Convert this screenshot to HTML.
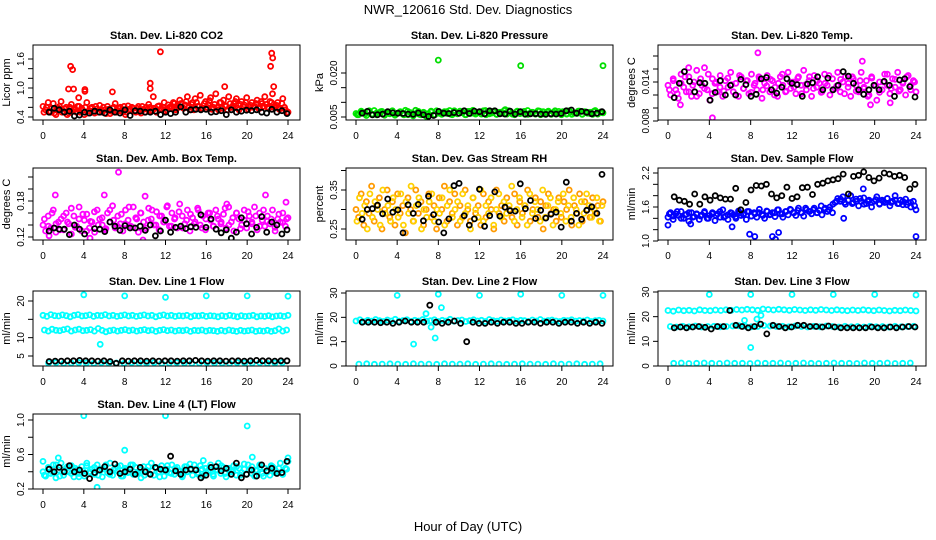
<!DOCTYPE html>
<html><head><meta charset="utf-8"><style>
body{margin:0;background:#fff;}
svg{display:block;font-family:"Liberation Sans",sans-serif;}
</style></head><body>
<svg id="chart" width="936" height="540" viewBox="0 0 936 540" xmlns="http://www.w3.org/2000/svg">
<rect width="936" height="540" fill="#fff"/>
<text x="468" y="14" text-anchor="middle" font-size="13">NWR_120616  Std. Dev. Diagnostics</text>
<text x="468" y="531" text-anchor="middle" font-size="13">Hour of Day (UTC)</text>
</svg>
<script>
// ---------- data ----------
const xTicks=[0,4,8,12,16,20,24];
const co2Red=[0.62,0.55,0.7,0.5,0.68,0.45,0.58,0.72,0.52,0.6,0.48,0.66,0.55,0.5,0.62,0.58,0.45,0.7,0.53,0.6,0.48,0.57,0.64,0.5,0.55,0.62,0.47,0.58,0.68,0.52,0.6,0.5,0.45,0.63,0.55,0.58,0.5,0.62,0.48,0.56,0.6,0.66,0.52,0.58,0.5,0.63,0.57,0.7,0.55,0.6,0.62,0.68,0.58,0.75,0.6,0.65,0.82,0.55,0.7,0.78,0.62,0.85,0.58,0.72,0.66,0.8,0.6,0.88,0.55,0.7,0.75,0.62,0.82,0.6,0.68,0.78,0.55,0.72,0.65,0.8,0.6,0.7,0.62,0.75,0.58,0.68,0.82,0.6,0.72,0.88,0.62,0.7,0.58,0.78,0.55,0.5];
const co2RedB=[0.5,0.6,0.52,0.58,0.48,0.55,0.62,0.5,0.57,0.45,0.6,0.52,0.56,0.62,0.5,0.54,0.6,0.48,0.58,0.52,0.62,0.5,0.55,0.6,0.47,0.56,0.52,0.6,0.5,0.58,0.54,0.62,0.5,0.56,0.6,0.52,0.58,0.55,0.62,0.5,0.56,0.6,0.54,0.58,0.62,0.56,0.6,0.52,0.65,0.58,0.7,0.55,0.62,0.68,0.58,0.72,0.6,0.66,0.55,0.7,0.62,0.58,0.68,0.6,0.74,0.56,0.66,0.6,0.7,0.58,0.64,0.55,0.68,0.6,0.72,0.58,0.66,0.62,0.7,0.56,0.64,0.6,0.68,0.58,0.72,0.62,0.66,0.58,0.7,0.6,0.64,0.56,0.68,0.6,0.5];
const co2OutX=[2.7,2.9,2.5,3.0,4.1,4.1,6.8,10.5,10.5,11.5,17.8,22.4,22.5,22.3,22.6,3.5,10.8];
const co2OutY=[1.45,1.38,0.98,0.98,0.97,0.93,0.92,1.1,0.99,1.75,1.03,1.72,1.62,1.45,1.03,0.8,0.82];
const co2Blk=[0.5,0.58,0.55,0.5,0.52,0.42,0.44,0.5,0.48,0.52,0.5,0.48,0.55,0.5,0.48,0.55,0.43,0.53,0.52,0.5,0.5,0.52,0.45,0.5,0.47,0.5,0.61,0.5,0.55,0.56,0.55,0.56,0.5,0.51,0.53,0.45,0.55,0.5,0.52,0.54,0.53,0.55,0.5,0.48,0.56,0.5,0.53,0.47];
const presGrn=[0.0062,0.0058,0.007,0.0065,0.0055,0.0068,0.006,0.0072,0.0057,0.0064,0.0069,0.0059,0.0066,0.0061,0.0071,0.0056,0.0063,0.0068,0.006,0.0073,0.0058,0.0065,0.0054,0.0062,0.0069,0.0057,0.0066,0.0052,0.006,0.0067,0.0058,0.0071,0.0063,0.0059,0.0068,0.0062,0.0072,0.0058,0.0066,0.0061,0.007,0.0064,0.0058,0.0069,0.0062,0.0073,0.006,0.0066,0.0062,0.0071,0.0058,0.0067,0.0063,0.007,0.0059,0.0066,0.0062,0.0072,0.006,0.0068,0.0064,0.0058,0.007,0.0062,0.0067,0.0059,0.0072,0.0063,0.0066,0.006,0.0071,0.0058,0.0068,0.0062,0.007,0.006,0.0066,0.0063,0.0069,0.0058,0.0067,0.0061,0.0071,0.0059,0.0065,0.0062,0.007,0.006,0.0068,0.0063,0.0066,0.0059,0.0072,0.0062,0.0067,0.0064];
const presGrnB=[0.0058,0.0066,0.0061,0.0071,0.0059,0.0064,0.0068,0.0056,0.0063,0.007,0.006,0.0066,0.0057,0.0069,0.0062,0.0073,0.0059,0.0065,0.0061,0.007,0.0058,0.0066,0.0063,0.0068,0.006,0.0071,0.0062,0.0067,0.0058,0.0069,0.0063,0.0066,0.006,0.0072,0.0061,0.0068,0.0059,0.0066,0.0063,0.0071,0.006,0.0067,0.0062,0.0069,0.0059,0.0066,0.0063,0.007,0.0061,0.0067,0.0059,0.0071,0.0062,0.0068,0.006,0.0066,0.0063,0.007,0.0059,0.0067,0.0062,0.0069,0.006,0.0066];
const presOutX=[8,16,24,14.5];
const presOutY=[0.0244,0.0225,0.0225,0.0075];
const presBlk=[0.0063,0.0069,0.0057,0.0058,0.006,0.0068,0.0064,0.0063,0.0062,0.006,0.0059,0.0064,0.0058,0.0052,0.0055,0.0069,0.0063,0.0062,0.0065,0.0063,0.0071,0.0062,0.007,0.0068,0.0061,0.0071,0.0071,0.0061,0.006,0.007,0.006,0.0068,0.006,0.0061,0.0061,0.006,0.0059,0.0061,0.006,0.0062,0.0071,0.0074,0.0063,0.0069,0.0066,0.0061,0.0063,0.0068];
const tempMag=[0.0135,0.012,0.0145,0.0128,0.0115,0.0152,0.0132,0.0125,0.0148,0.0118,0.014,0.0158,0.0122,0.0135,0.0162,0.0128,0.0112,0.0145,0.0138,0.0125,0.015,0.0118,0.0142,0.0132,0.0155,0.0125,0.0138,0.0118,0.0148,0.013,0.0142,0.0122,0.0152,0.0135,0.0128,0.0145,0.0115,0.0138,0.015,0.0125,0.0142,0.0132,0.0118,0.0148,0.0135,0.0125,0.0155,0.013,0.014,0.0122,0.0148,0.0135,0.0158,0.0128,0.0142,0.0118,0.015,0.0132,0.0138,0.0125,0.0152,0.0135,0.012,0.0145,0.013,0.0155,0.0125,0.014,0.0148,0.0132,0.0118,0.0145,0.0135,0.0125,0.0155,0.013,0.0142,0.012,0.0148,0.0135,0.0112,0.014,0.0128,0.0152,0.0135,0.0122,0.0145,0.0132,0.0155,0.0128,0.014,0.012,0.015,0.0135,0.0142,0.0125];
const tempMagB=[0.0128,0.0142,0.0122,0.0138,0.0148,0.0125,0.0135,0.0118,0.0145,0.013,0.0152,0.0122,0.014,0.0132,0.0126,0.0146,0.0136,0.012,0.015,0.013,0.0142,0.0124,0.0138,0.0148,0.0128,0.0134,0.0144,0.012,0.0138,0.0152,0.0126,0.014,0.0132,0.0146,0.0122,0.0136,0.0148,0.013,0.0142,0.0124,0.0138,0.015,0.0128,0.0134,0.0144,0.0122,0.0138,0.0148,0.0126,0.0142,0.0132,0.0118,0.0146,0.0134,0.0124,0.014,0.0152,0.013,0.0144,0.0126,0.0138,0.0148,0.0128,0.014];
const tempOutX=[4.3,8.7,18.8,1.2,19.6,21.5,2.0];
const tempOutY=[0.0085,0.0185,0.0172,0.0105,0.0105,0.0108,0.0162];
const tempBlk=[0.0116,0.0138,0.0156,0.0141,0.0125,0.0139,0.0138,0.0112,0.0124,0.0142,0.012,0.0135,0.012,0.0144,0.0136,0.0118,0.0121,0.0145,0.0147,0.0128,0.0123,0.0132,0.0145,0.0138,0.0136,0.0118,0.0137,0.0139,0.0148,0.0128,0.0146,0.0128,0.0135,0.0156,0.0149,0.0138,0.0128,0.0121,0.0128,0.0135,0.0128,0.0141,0.0135,0.0118,0.0143,0.0145,0.0133,0.0117];
const ambMag=[0.14,0.13,0.155,0.135,0.165,0.128,0.145,0.15,0.132,0.16,0.142,0.125,0.155,0.138,0.17,0.13,0.148,0.158,0.135,0.145,0.128,0.165,0.15,0.14,0.132,0.16,0.145,0.172,0.135,0.155,0.142,0.13,0.165,0.148,0.138,0.17,0.152,0.128,0.16,0.145,0.135,0.168,0.15,0.14,0.162,0.132,0.155,0.145,0.17,0.138,0.16,0.15,0.135,0.175,0.155,0.142,0.165,0.13,0.152,0.145,0.168,0.14,0.155,0.132,0.16,0.148,0.138,0.165,0.15,0.142,0.158,0.135,0.17,0.145,0.13,0.16,0.15,0.14,0.165,0.135,0.155,0.145,0.17,0.132,0.16,0.148,0.138,0.155,0.142,0.165,0.13,0.15,0.145,0.16,0.138,0.152];
const ambMagB=[0.15,0.138,0.16,0.142,0.132,0.155,0.145,0.168,0.136,0.15,0.158,0.13,0.146,0.162,0.14,0.152,0.134,0.165,0.148,0.138,0.158,0.142,0.17,0.136,0.15,0.16,0.132,0.148,0.165,0.14,0.155,0.145,0.172,0.138,0.152,0.162,0.135,0.148,0.158,0.142,0.165,0.135,0.15,0.16,0.138,0.155,0.145,0.168,0.14,0.152,0.16,0.134,0.148,0.162,0.142,0.155,0.138,0.165,0.146,0.15,0.136,0.158,0.144,0.15];
const ambOutX=[7.4,1.2,6.0,10.0,18.0,21.8,23.8,0.6,4.6,9.8,23.4];
const ambOutY=[0.228,0.19,0.19,0.188,0.175,0.19,0.178,0.122,0.118,0.115,0.108];
const ambBlk=[0.13,0.135,0.133,0.133,0.124,0.14,0.133,0.125,0.108,0.134,0.133,0.129,0.145,0.138,0.131,0.139,0.135,0.135,0.138,0.131,0.14,0.122,0.13,0.148,0.128,0.136,0.138,0.134,0.137,0.136,0.157,0.136,0.15,0.133,0.127,0.132,0.118,0.128,0.152,0.142,0.125,0.136,0.154,0.128,0.145,0.14,0.125,0.132];
const rhOrg=[0.3,0.28,0.34,0.26,0.32,0.29,0.36,0.27,0.31,0.33,0.25,0.3,0.35,0.28,0.32,0.26,0.34,0.29,0.31,0.24,0.33,0.3,0.27,0.35,0.29,0.32,0.26,0.3,0.34,0.28,0.31,0.25,0.33,0.3,0.36,0.27,0.32,0.29,0.34,0.26,0.31,0.28,0.35,0.3,0.27,0.33,0.29,0.31,0.26,0.34,0.28,0.32,0.3,0.25,0.35,0.29,0.31,0.27,0.33,0.3,0.28,0.34,0.26,0.32,0.29,0.31,0.35,0.27,0.3,0.33,0.28,0.32,0.25,0.31,0.34,0.29,0.3,0.27,0.33,0.28,0.32,0.3,0.35,0.26,0.31,0.29,0.34,0.27,0.32,0.3,0.28,0.33,0.29,0.31,0.27,0.32];
const rhOrgB=[0.27,0.33,0.29,0.31,0.25,0.34,0.28,0.32,0.3,0.26,0.35,0.29,0.31,0.27,0.33,0.3,0.28,0.34,0.26,0.32,0.29,0.36,0.27,0.31,0.33,0.25,0.3,0.28,0.32,0.34,0.27,0.3,0.29,0.33,0.26,0.31,0.35,0.28,0.3,0.32,0.27,0.34,0.29,0.31,0.25,0.33,0.3,0.28,0.35,0.27,0.31,0.29,0.33,0.26,0.3,0.34,0.28,0.32,0.29,0.31,0.36,0.27,0.3,0.33,0.28,0.31,0.26,0.34,0.29,0.32,0.3,0.27,0.35,0.28,0.31,0.33,0.26,0.3,0.32,0.29,0.34,0.27,0.31,0.28,0.33,0.3,0.26,0.32,0.29,0.34,0.31,0.28,0.3,0.33,0.27,0.31];
const rhBlk=[0.275,0.3,0.302,0.311,0.289,0.327,0.293,0.299,0.24,0.312,0.29,0.313,0.271,0.334,0.287,0.268,0.24,0.276,0.361,0.367,0.284,0.26,0.276,0.352,0.257,0.284,0.345,0.283,0.306,0.297,0.296,0.366,0.302,0.323,0.277,0.298,0.278,0.288,0.293,0.255,0.37,0.27,0.29,0.275,0.298,0.307,0.29,0.39];
const flowBlu=[1.42,1.5,1.38,1.48,1.45,1.52,1.4,1.47,1.35,1.5,1.43,1.48,1.38,1.46,1.52,1.4,1.45,1.5,1.36,1.48,1.42,1.55,1.44,1.38,1.5,1.46,1.4,1.53,1.45,1.48,1.38,1.52,1.44,1.5,1.42,1.56,1.47,1.4,1.52,1.46,1.5,1.43,1.55,1.48,1.42,1.52,1.46,1.55,1.5,1.45,1.58,1.5,1.44,1.55,1.52,1.48,1.58,1.5,1.54,1.46,1.56,1.52,1.6,1.5,1.68,1.75,1.7,1.78,1.65,1.72,1.8,1.68,1.74,1.62,1.7,1.76,1.66,1.72,1.6,1.7,1.78,1.65,1.72,1.68,1.75,1.62,1.7,1.8,1.66,1.72,1.64,1.74,1.68,1.6,1.7,1.55];
const flowBluB=[1.48,1.44,1.52,1.4,1.46,1.5,1.42,1.47,1.44,1.5,1.4,1.48,1.45,1.52,1.42,1.46,1.49,1.43,1.5,1.46,1.52,1.44,1.48,1.5,1.45,1.53,1.47,1.5,1.55,1.48,1.52,1.56,1.5,1.54,1.5,1.58,1.52,1.55,1.5,1.62,1.58,1.55,1.65,1.7,1.74,1.68,1.72,1.66,1.7,1.75,1.65,1.7,1.68,1.73,1.66,1.7,1.75,1.68,1.72,1.66,1.7,1.64,1.68,1.62];
const flowOutX=[0.0,7.9,8.4,10.1,10.4,10.7,24.0,2.2,6.2,17.0,18.9];
const flowOutY=[1.28,1.12,1.08,1.08,1.03,1.15,1.08,1.3,1.25,1.4,1.92];
const flowBlk=[1.78,1.72,1.7,1.65,1.83,1.65,1.78,1.72,1.8,1.76,1.74,1.74,1.93,1.55,1.68,1.9,1.98,1.97,2.0,1.83,1.76,1.8,1.95,1.75,1.78,1.94,1.95,1.82,2.0,2.02,2.06,2.08,2.1,2.18,1.83,2.14,2.16,2.22,2.12,2.06,2.11,2.2,2.18,2.14,2.16,2.12,1.92,2.0];
const l1A=[16.1,15.8,16.3,16.0,15.9,16.2,16.0,15.7,16.1,16.3,15.9,16.0,16.2,15.8,16.1,16.0,16.3,15.9,16.1,15.8,16.0,16.2,15.9,16.1,15.8,16.0,16.2,15.9,16.1,15.7,16.0,16.2,15.9,16.1,15.8,16.0,15.9,16.1,15.7,16.0,15.9,16.1,15.8,16.0,15.9,15.7,16.0,15.8,16.1,15.9,15.7,16.0,15.8,15.9,16.1,15.7,15.9,15.8,16.0,15.7,15.9,16.0,15.8,16.1];
const l1B=[12.1,11.8,12.3,12.0,11.9,12.2,12.4,11.8,12.1,12.3,11.9,12.0,12.2,11.8,12.5,12.0,11.6,11.9,12.1,11.8,12.0,12.2,11.9,12.1,11.8,12.0,12.2,11.9,12.1,11.7,12.0,12.2,11.9,12.1,11.8,12.0,11.9,12.1,11.7,12.0,11.9,12.1,11.8,12.0,11.9,11.7,12.0,11.8,12.1,11.9,11.7,12.0,11.8,11.9,12.1,11.7,11.9,11.8,12.0,11.7,11.9,12.4,11.8,12.1];
const l1C=[3.1,3.2,3.0,3.1,3.2,3.1,3.0,3.2,3.1,3.1,3.0,3.2,3.1,3.1,3.2,3.0,3.1,3.2,3.1,3.0,3.1,3.2,3.1,3.1,3.0,3.2,3.1,3.1,3.2,3.0,3.1,3.2];
const l1OutX=[4,8,12,16,20,24,5.6];
const l1OutY=[21.7,21.4,21,21.4,21.4,21.3,8.2];
const l1Blk=[3.5,3.6,3.6,3.7,3.7,3.8,3.7,3.7,3.6,3.7,3.5,3.0,3.7,3.6,3.7,3.7,3.6,3.7,3.6,3.7,3.7,3.6,3.7,3.7,3.8,3.7,3.6,3.7,3.7,3.6,3.7,3.7,3.6,3.7,3.8,3.7,3.7,3.6,3.7,3.7];
const l2A=[18.5,19.0,18.2,18.8,18.4,19.1,18.6,18.3,18.9,18.5,19.2,18.4,18.7,19.0,18.3,18.8,18.5,19.1,18.4,18.6,19.0,18.3,18.8,18.5,19.2,18.4,18.7,18.9,18.3,18.6,19.0,18.5,18.8,18.3,19.1,18.6,18.4,18.9,18.5,18.7,19.0,18.4,18.8,18.6,18.3,18.9,18.5,19.1,18.4,18.7,18.9,18.5,18.3,18.8,18.6,19.0,18.4,18.7,18.5,18.9,18.3,18.6,18.8,18.5];
const l2Low=[0.8,0.9,0.7,0.8,0.9,0.8,0.7,0.9,0.8,0.8,0.7,0.9,0.8,0.8,0.9,0.7,0.8,0.9,0.8,0.7,0.8,0.9,0.8,0.8,0.7,0.9,0.8,0.8,0.9,0.7,0.8,0.9];
const l2OutX=[4,8,12,16,20,24,5.6,6.8,7.7,8.3,7.3];
const l2OutY=[29,29.5,29,29.5,29,29,9,21.5,11.5,24,16];
const l2Blk=[18,18,18,17.8,18,17.5,18,18.5,18,18,18,25,18,17.5,18,18.5,17.5,10,18,17.5,17.5,18,17.5,18,18,17.5,17.5,18,18,17.5,18,18,17.5,18,18,17.5,18,17.5,18,17.5];
const l3A=[22.5,22.2,22.7,22.4,22.6,22.3,22.8,22.5,22.4,22.7,22.5,22.8,22.6,22.9,22.7,23.0,22.8,22.6,23.1,22.9,22.7,23.0,22.8,22.6,22.9,22.7,22.5,22.8,22.6,22.9,22.7,22.5,22.8,22.6,22.4,22.7,22.5,22.8,22.6,22.4,22.7,22.5,22.3,22.6,22.4,22.7,22.5,22.3];
const l3B=[16,15.8,16.1,15.9,16.2,15.8,16,16.1,15.9,16,16.2,16.3,16.1,15.9,16,16.4,16.2,16,16.1,15.9,16.2,16,15.8,16.1,15.9,16.2,16,15.8,16.1,15.9,16,15.8,16.1,15.9,16,15.8,16.1,15.9,16,16.1];
const l3Low=[1.1,1.2,1.0,1.1,1.2,1.1,1.0,1.2,1.1,1.1,1.0,1.2,1.1,1.1,1.2,1.0,1.1,1.2,1.1,1.0,1.1,1.2,1.1,1.1,1.0,1.2,1.1,1.1,1.2,1.0,1.1,1.2];
const l3OutX=[4,8,12,16,20,24,8.0,7.4,9.0,8.6];
const l3OutY=[29,29,29,29,29,28.8,7.5,18.5,20.5,19];
const l3Blk=[15.5,15.8,15.5,15.8,16,15.7,15,16,16,22.5,16.5,16,15.5,16,17,13,16.5,16,15.5,15.8,16.5,16.5,16,16,15.8,16.2,15.8,15.5,15.5,15.5,15.5,15.5,15.8,15.5,15.5,15.8,15.5,15.8,16,15.8];
const l4Cyn=[0.4,0.35,0.45,0.38,0.48,0.33,0.42,0.5,0.36,0.44,0.4,0.47,0.34,0.42,0.38,0.46,0.35,0.5,0.4,0.43,0.37,0.48,0.41,0.34,0.45,0.39,0.5,0.36,0.44,0.41,0.47,0.35,0.42,0.39,0.48,0.37,0.45,0.4,0.33,0.46,0.42,0.38,0.5,0.36,0.44,0.4,0.47,0.35,0.43,0.39,0.48,0.37,0.45,0.41,0.34,0.46,0.4,0.49,0.36,0.43,0.39,0.47,0.35,0.44,0.41,0.48,0.37,0.42,0.5,0.38,0.45,0.34,0.43,0.4,0.47,0.36,0.44,0.39,0.49,0.37,0.42,0.46,0.35,0.41,0.48,0.38,0.44,0.4,0.36,0.46,0.42,0.39,0.5,0.37,0.44,0.52];
const l4CynB=[0.36,0.44,0.4,0.48,0.35,0.42,0.46,0.38,0.44,0.34,0.41,0.47,0.39,0.45,0.36,0.43,0.48,0.37,0.42,0.46,0.35,0.44,0.4,0.48,0.38,0.43,0.36,0.46,0.41,0.45,0.34,0.42,0.47,0.38,0.44,0.4,0.36,0.46,0.42,0.48,0.37,0.43,0.39,0.45,0.35,0.42,0.47,0.38,0.44,0.4,0.46,0.36,0.43,0.48,0.38,0.42,0.45,0.35,0.41,0.47,0.39,0.44,0.37,0.43];
const l4OutX=[4,12,20,8,5.3,0,1.5,15.7,20.5,24];
const l4OutY=[1.05,1.05,0.93,0.65,0.22,0.52,0.56,0.53,0.57,0.56];
const l4Blk=[0.43,0.4,0.45,0.4,0.47,0.4,0.42,0.38,0.32,0.39,0.42,0.46,0.4,0.49,0.38,0.4,0.43,0.37,0.45,0.4,0.37,0.45,0.43,0.42,0.58,0.41,0.37,0.42,0.43,0.42,0.33,0.36,0.45,0.46,0.41,0.44,0.37,0.5,0.33,0.37,0.42,0.35,0.48,0.41,0.44,0.38,0.39,0.52];

// ---------- layout ----------
const COLS=[{b0:33,b1:300,x0:43,x1:288},{b0:346,b1:613,x0:356,x1:603},{b0:658,b1:926,x0:668,x1:916}];
const ROWS=[{t:45,b:120},{t:168,b:240},{t:291,b:366},{t:414,b:489}];
const panels=[
 {name:'co2',title:'Stan. Dev. Li-820 CO2',ylab:'Licor ppm',c:0,r:0,ya:[0.4,117],yb:[1.6,59],ticks:[0.4,0.6,0.8,1.0,1.2,1.4,1.6],labels:['0.4','1.0','1.6'],lv:[0.4,1.0,1.6],
  series:[[co2Red,'#ff0000'],[co2RedB,'#ff0000']],out:[co2OutX,co2OutY,'#ff0000'],blk:co2Blk},
 {name:'pressure',title:'Stan. Dev. Li-820 Pressure',ylab:'kPa',c:1,r:0,ya:[0.005,117],yb:[0.020,73],ticks:[0.005,0.010,0.015,0.020],labels:['0.005','0.020'],lv:[0.005,0.020],
  series:[[presGrn,'#00ee00'],[presGrnB,'#00dd00']],out:[presOutX,presOutY,'#00dd00'],blk:presBlk},
 {name:'li820-temp',title:'Stan. Dev. Li-820 Temp.',ylab:'degrees C',c:2,r:0,ya:[0.008,121],yb:[0.014,82],ticks:[0.008,0.010,0.012,0.014,0.016,0.018],labels:['0.008','0.014'],lv:[0.008,0.014],
  series:[[tempMag,'#ff00ff'],[tempMagB,'#ff00ff']],out:[tempOutX,tempOutY,'#ff00ff'],blk:tempBlk},
 {name:'amb-box-temp',title:'Stan. Dev. Amb. Box Temp.',ylab:'degrees C',c:0,r:1,ya:[0.12,237],yb:[0.18,201],ticks:[0.12,0.14,0.16,0.18,0.20,0.22],labels:['0.12','0.18'],lv:[0.12,0.18],
  series:[[ambMag,'#ff00ff'],[ambMagB,'#ff00ff']],out:[ambOutX,ambOutY,'#ff00ff'],blk:ambBlk},
 {name:'gas-stream-rh',title:'Stan. Dev. Gas Stream RH',ylab:'percent',c:1,r:1,ya:[0.25,229],yb:[0.35,190],ticks:[0.25,0.30,0.35,0.40],labels:['0.25','0.35'],lv:[0.25,0.35],
  series:[[rhOrg,'#ff9a00'],[rhOrgB,'#ffd000']],out:null,blk:rhBlk},
 {name:'sample-flow',title:'Stan. Dev. Sample Flow',ylab:'ml/min',c:2,r:1,ya:[1.0,241],yb:[2.2,173],ticks:[1.0,1.2,1.4,1.6,1.8,2.0,2.2],labels:['1.0','1.6','2.2'],lv:[1.0,1.6,2.2],
  series:[[flowBlu,'#0000ff'],[flowBluB,'#0000ff']],out:[flowOutX,flowOutY,'#0000ff'],blk:flowBlk},
 {name:'line1-flow',title:'Stan. Dev. Line 1 Flow',ylab:'ml/min',c:0,r:2,ya:[5,356],yb:[20,301],ticks:[5,10,15,20],labels:['5','10','20'],lv:[5,10,20],
  series:[[l1A,'#00ffff'],[l1B,'#00ffff'],[l1C,'#00ffff']],out:[l1OutX,l1OutY,'#00ffff'],blk:l1Blk},
 {name:'line2-flow',title:'Stan. Dev. Line 2 Flow',ylab:'ml/min',c:1,r:2,ya:[0,366],yb:[30,293],ticks:[0,10,20,30],labels:['0','10','20','30'],lv:[0,10,20,30],
  series:[[l2A,'#00ffff'],[l2Low,'#00ffff']],out:[l2OutX,l2OutY,'#00ffff'],blk:l2Blk},
 {name:'line3-flow',title:'Stan. Dev. Line 3 Flow',ylab:'ml/min',c:2,r:2,ya:[0,366],yb:[30,292],ticks:[0,10,20,30],labels:['0','10','20','30'],lv:[0,10,20,30],
  series:[[l3A,'#00ffff'],[l3B,'#00ffff'],[l3Low,'#00ffff']],out:[l3OutX,l3OutY,'#00ffff'],blk:l3Blk},
 {name:'line4-flow',title:'Stan. Dev. Line 4 (LT) Flow',ylab:'ml/min',c:0,r:3,ya:[0.2,489],yb:[1.0,420],ticks:[0.2,0.4,0.6,0.8,1.0],labels:['0.2','0.6','1.0'],lv:[0.2,0.6,1.0],
  series:[[l4Cyn,'#00ffff'],[l4CynB,'#00ffff']],out:[l4OutX,l4OutY,'#00ffff'],blk:l4Blk}
];

const NS='http://www.w3.org/2000/svg';
const svg=document.getElementById('chart');
function mk(tag,attrs,parent){const e=document.createElementNS(NS,tag);for(const k in attrs)e.setAttribute(k,attrs[k]);parent.appendChild(e);return e;}

panels.forEach(p=>{
  const C=COLS[p.c],R=ROWS[p.r];
  const g=mk('g',{},svg);
  
  
  const xs=h=>C.x0+(C.x1-C.x0)*h/24;
  const ys=v=>p.ya[1]+(v-p.ya[0])*(p.yb[1]-p.ya[1])/(p.yb[0]-p.ya[0]);
  const cl=mk('clipPath',{id:'cp'+p.name},g);
  mk('rect',{x:C.b0,y:R.t,width:C.b1-C.b0,height:R.b-R.t},cl);
  const pts=mk('g',{'clip-path':'url(#cp'+p.name+')',fill:'none','stroke-width':'1.8'},g);
  
  
  function dot(h,v,col,nm){
    const c=mk('circle',{cx:xs(h).toFixed(1),cy:ys(v).toFixed(1),r:2.5,stroke:col},pts);
    
    
  }
  p.series.forEach((s,si)=>{
    const arr=s[0],n=arr.length;
    arr.forEach((v,i)=>dot((i+si*0.37)*24/(n-1+si*0.37*2),v,s[1],p.name+'-point'));
  });
  if(p.out){p.out[0].forEach((h,i)=>dot(h,p.out[1][i],p.out[2],p.name+'-outlier'));}
  const nb=p.blk.length;
  p.blk.forEach((v,i)=>dot(0.6+i*23.3/(nb-1),v,'#000',p.name+'-ref-point'));
  const bx=mk('rect',{x:C.b0,y:R.t,width:C.b1-C.b0,height:R.b-R.t,fill:'none',stroke:'#000','stroke-width':1},g);
  
  
  const t=mk('text',{x:(C.b0+C.b1)/2,y:R.t-6,'text-anchor':'middle','font-size':11,'font-weight':'bold'},g);
  t.textContent=p.title;
  
  
  const yl=mk('text',{x:0,y:0,'text-anchor':'middle','font-size':11,transform:`translate(${C.b0-23},${(R.t+R.b)/2}) rotate(-90)`},g);
  yl.textContent=p.ylab;
  
  
  const yt=p.ticks;
  mk('line',{x1:C.b0,x2:C.b0,y1:ys(yt[0]),y2:ys(yt[yt.length-1]),stroke:'#000'},g);
  yt.forEach(v=>mk('line',{x1:C.b0-5,x2:C.b0,y1:ys(v),y2:ys(v),stroke:'#000'},g));
  p.labels.forEach((lb,i)=>{
    const y=ys(p.lv[i]);
    const tl=mk('text',{x:0,y:0,'text-anchor':'middle','font-size':10,transform:`translate(${C.b0-9},${y}) rotate(-90)`},g);
    tl.textContent=lb;
    
    
  });
  xTicks.forEach(h=>{
    mk('line',{x1:xs(h),x2:xs(h),y1:R.b,y2:R.b+5,stroke:'#000'},g);
    const tx=mk('text',{x:xs(h),y:R.b+19,'text-anchor':'middle','font-size':10},g);
    tx.textContent=String(h);
    
    
  });
});
</script>
</body></html>
